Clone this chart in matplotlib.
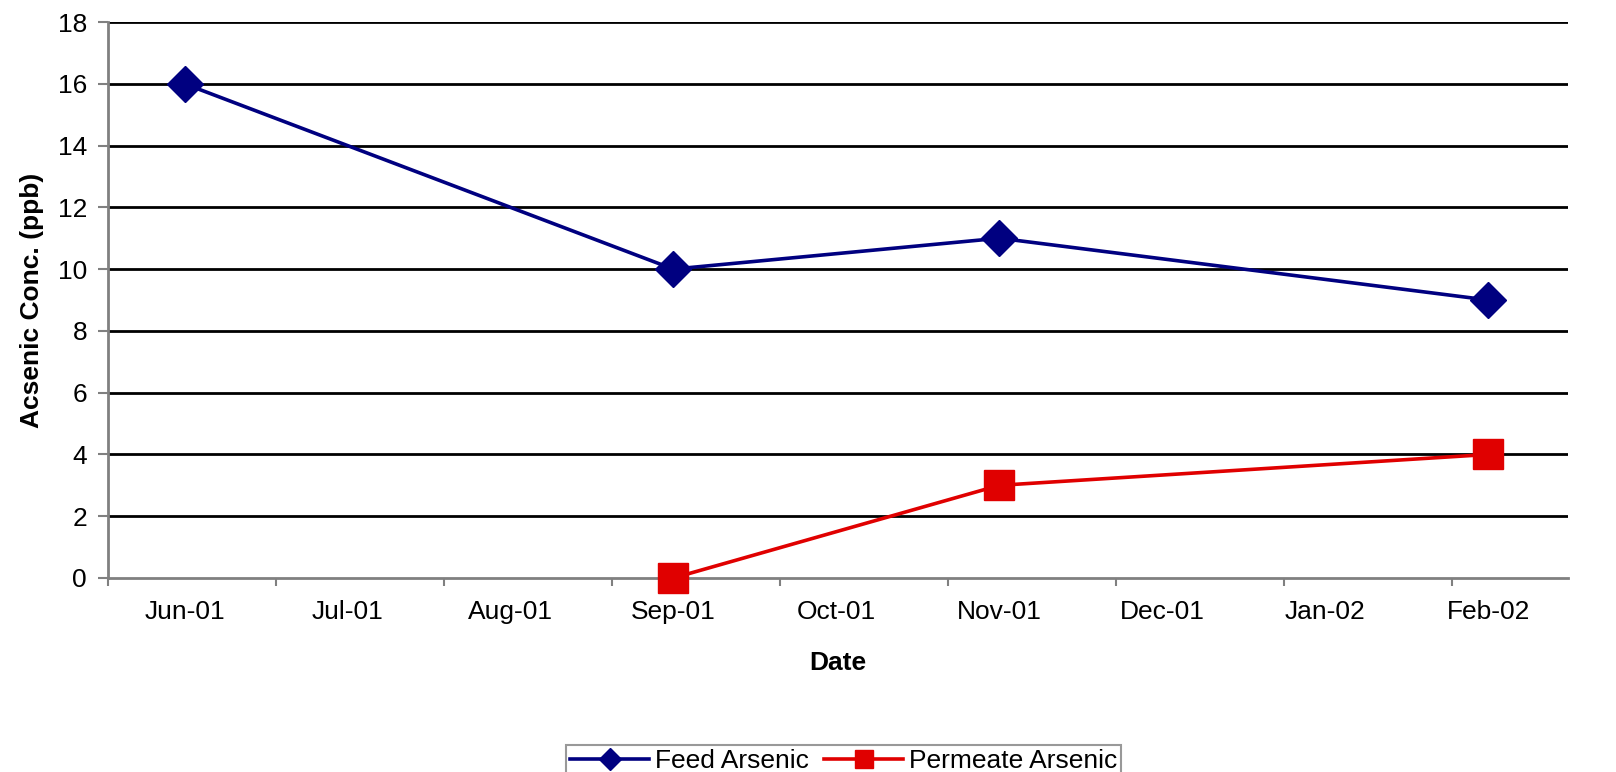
import matplotlib
matplotlib.use("Agg")
import matplotlib.pyplot as plt
from matplotlib.ticker import FixedLocator

# === data ===
months = ["Jun-01", "Jul-01", "Aug-01", "Sep-01", "Oct-01",
          "Nov-01", "Dec-01", "Jan-02", "Feb-02"]
feed_dates = ["Jun-01", "Sep-01", "Nov-01", "Feb-02"]
feed_vals = [16, 10, 11, 9]
perm_dates = ["Sep-01", "Nov-01", "Feb-02"]
perm_vals = [0, 3, 4]
y_ticks = list(range(0, 19, 2))

plt.rcParams["font.family"] = ["Liberation Sans", "DejaVu Sans"]

fig = plt.figure(figsize=(16.16, 7.72), dpi=100)
ax = fig.add_axes([0.0668, 0.2513, 0.9035, 0.7202])

fx = [months.index(d) for d in feed_dates]
px = [months.index(d) for d in perm_dates]

ax.plot(fx, feed_vals, color="#000080", lw=2.6, marker="D", ms=18,
        mfc="#000080", mec="#000080", label="Feed Arsenic", clip_on=False, zorder=5)
ax.plot(px, perm_vals, color="#e00000", lw=2.6, marker="s", ms=21,
        mfc="#e00000", mec="#e00000", label="Permeate Arsenic", clip_on=False, zorder=5)

ax.set_xlim(-0.47, 8.49)
ax.set_ylim(0, 18)

# tick marks sit slightly off the month boundaries in the original
ax.xaxis.set_major_locator(FixedLocator([-0.47 + 1.031 * k for k in range(9)]))
ax.xaxis.set_minor_locator(FixedLocator(range(len(months))))
ax.set_xticklabels([], minor=False)
ax.set_xticklabels(months, minor=True)
ax.tick_params(axis="x", which="major", length=6, width=1.5, color="#808080", direction="out")
ax.tick_params(axis="x", which="minor", length=0, pad=16, labelsize=19)

ax.set_yticks(y_ticks)
ax.tick_params(axis="y", length=7, width=1.5, color="#808080", direction="out", labelsize=19, pad=8)

for y in y_ticks[1:]:
    ax.axhline(y, color="black", lw=2, zorder=1)

for s in ["top", "right"]:
    ax.spines[s].set_visible(False)
for s in ["left", "bottom"]:
    ax.spines[s].set_color("#808080")
    ax.spines[s].set_linewidth(2)

ax.set_xlabel("Date", fontsize=19, fontweight="bold", labelpad=19)
ax.set_ylabel("Acsenic Conc. (ppb)", fontsize=19, fontweight="bold", labelpad=10)

leg = fig.legend(loc="upper center", bbox_to_anchor=(0.522, 0.0515), ncol=2,
                 fontsize=19, frameon=True, fancybox=False, edgecolor="#808080",
                 handlelength=3.0, handletextpad=0.2, columnspacing=0.6,
                 borderpad=0.15, markerscale=0.6)
leg.get_frame().set_linewidth(1.5)

fig.savefig("out.png", dpi=100)
